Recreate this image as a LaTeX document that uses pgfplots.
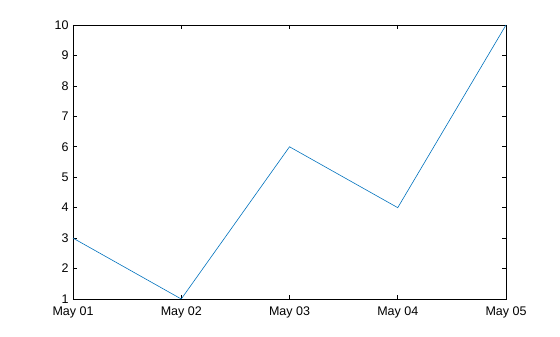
\documentclass[border=0pt]{standalone}
\usepackage{pgfplots}
\pgfplotsset{compat=1.18}
\usepackage{fontspec}
\setmainfont{Liberation Sans}
\definecolor{oblue}{rgb}{0,0.447,0.741}
\begin{document}
\begin{tikzpicture}[x=1pt,y=1pt]
\path[use as bounding box] (-73,-38) rectangle (487,299);
\begin{axis}[
  at={(0,0)}, anchor=south west,
  scale only axis, width=433pt, height=274pt,
  xmin=0, xmax=4, ymin=1, ymax=10,
  xtick={0,1,2,3,4},
  xticklabels={May 01,May 02,May 03,May 04,May 05},
  ytick={1,2,...,10},
  tick align=inside,
  major tick length=4pt,
  axis line style={black, line width=0.6pt},
  tick style={black, line width=0.6pt},
  ticklabel style={font=\fontsize{12.5}{14}\selectfont},
  /pgf/number format/assume math mode=true,
  xticklabel style={yshift=-4pt},
  yticklabel style={xshift=-1pt},
]
\addplot[oblue, line width=0.6pt, mark=none] coordinates {
(0,3) (1,1) (2,6) (3,4) (4,10)
};
\end{axis}
\end{tikzpicture}
\end{document}
